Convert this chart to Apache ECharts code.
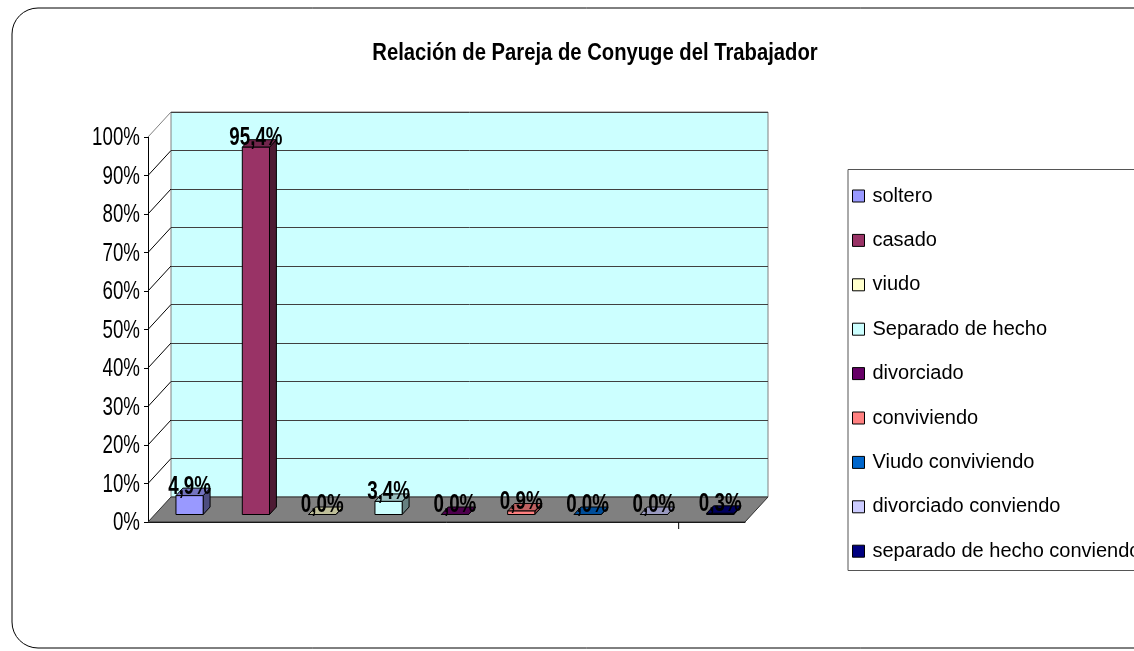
<!DOCTYPE html>
<html><head><meta charset="utf-8">
<script src="https://cdn.jsdelivr.net/npm/echarts@6/dist/echarts.min.js"></script>
<style>html,body{margin:0;padding:0;background:#fff}#c{width:1134px;height:651px}</style>
</head><body><div id="c"></div>
<script>
const title = 'Relación de Pareja de Conyuge del Trabajador';
const categories = ['soltero','casado','viudo','Separado de hecho','divorciado','conviviendo','Viudo conviviendo','divorciado conviendo','separado de hecho conviendo'];
const values = [4.9, 95.4, 0.0, 3.4, 0.0, 0.9, 0.0, 0.0, 0.3];
const colors = ['#9999FF','#993366','#FFFFCC','#CCFFFF','#660066','#FF8080','#0066CC','#CCCCFF','#000080'];
const yTickValues = [0,10,20,30,40,50,60,70,80,90,100];
const yTickLabels = ['0%','10%','20%','30%','40%','50%','60%','70%','80%','90%','100%'];

const FONT = "'Liberation Sans',Arial,sans-serif";
const DX = 23, DY = -25;          // depth of the 3D box
const G = {left:148, top:137, width:597, height:385};

function shade(hex, f){
  const n = parseInt(hex.slice(1),16);
  const r = Math.round(((n>>16)&255)*f), g = Math.round(((n>>8)&255)*f), b = Math.round((n&255)*f);
  return 'rgb('+r+','+g+','+b+')';
}
function fmt(v){ return v.toFixed(1).replace('.', ',') + '%'; }

function barRender(k){
  return function(params, api){
    const v = api.value(1);
    const base = api.coord([api.value(0), 0]);
    const top = api.coord([api.value(0), v]);
    const band = api.size([1,0])[0];
    const w = band*0.41;
    const fx = DX*0.3, fy = DY*0.3, dx = DX*0.3, dy = DY*0.3;
    const cx = base[0] + fx + 1.5;
    const x0 = cx - w/2, x1 = cx + w/2;
    const yb = base[1] + fy, yt = top[1] + fy;
    const c = colors[k];
    const line = {stroke:'#000', lineWidth:1};
    return {type:'group', children:[
      {type:'polygon', shape:{points:[[x1,yt],[x1+dx,yt+dy],[x1+dx,yb+dy],[x1,yb]]}, style:Object.assign({fill:shade(c,0.5)}, line)},
      {type:'polygon', shape:{points:[[x0,yt],[x1,yt],[x1+dx,yt+dy],[x0+dx,yt+dy]]}, style:Object.assign({fill:shade(c,0.75)}, line)},
      {type:'rect', shape:{x:x0, y:yt, width:w, height:Math.max(yb-yt,0)}, style:Object.assign({fill:c}, line)},
      {type:'text', x:cx, y:yt-9, scaleX:0.75, z2:10, style:{text:fmt(v), fill:'#000', fontFamily:FONT, fontWeight:'bold', fontSize:25, align:'center', verticalAlign:'middle'}}
    ]};
  };
}

const series = [];
// floor, left side diagonals, y tick labels, category tick
series.push({
  type:'custom', xAxisIndex:0, yAxisIndex:0, z:1, silent:true,
  data:[[0,0]],
  renderItem:function(params, api){
    const cs = params.coordSys;
    const yb = cs.y + cs.height;
    const band = api.size([1,0])[0];
    const ch = [
      {type:'polygon', shape:{points:[[cs.x,yb],[cs.x+cs.width,yb],[cs.x+cs.width+DX,yb+DY],[cs.x+DX,yb+DY]]}, style:{fill:'#808080', stroke:'#303030', lineWidth:1}}
    ];
    yTickValues.forEach(function(t, i){
      const p = api.coord([0, t]);
      if (t !== 0) {
        ch.push({type:'line', shape:{x1:cs.x, y1:p[1], x2:cs.x+DX, y2:p[1]+DY}, style:{stroke: t===100 ? '#808080' : '#000', lineWidth:1}});
      }
      ch.push({type:'text', x:cs.x-8, y:p[1]+1, scaleX:0.72, style:{text:yTickLabels[i], fill:'#000', fontFamily:FONT, fontSize:26, align:'right', verticalAlign:'middle'}});
    });
    const tx = api.coord([8, 0])[0] - band/2;
    ch.push({type:'line', shape:{x1:tx, y1:yb, x2:tx, y2:yb+7}, style:{stroke:'#000', lineWidth:1}});
    return {type:'group', children:ch};
  }
});
categories.forEach(function(name, k){
  series.push({
    type:'custom', name:name, xAxisIndex:0, yAxisIndex:0, z:3,
    itemStyle:{color:colors[k]},
    data:[[k, values[k]]],
    renderItem:barRender(k)
  });
});

const chart = echarts.init(document.getElementById('c'), null, {renderer:'canvas'});
chart.setOption({
  animation:false,
  backgroundColor:'#fff',
  grid:[
    {left:G.left, top:G.top, width:G.width, height:G.height, show:false, containLabel:false},
    {left:G.left+DX, top:G.top+DY, width:G.width, height:G.height, show:true, backgroundColor:'#CCFFFF', borderColor:'#808080', borderWidth:1, containLabel:false}
  ],
  xAxis:[
    {type:'category', gridIndex:0, data:categories, boundaryGap:true,
     axisLine:{show:true, lineStyle:{color:'#000', width:1}},
     axisTick:{show:false},
     axisLabel:{show:false}},
    {type:'category', gridIndex:1, data:categories, show:false}
  ],
  yAxis:[
    {type:'value', gridIndex:0, min:0, max:100, interval:10,
     axisLine:{show:true, lineStyle:{color:'#000', width:1}},
     axisTick:{show:true, length:4, lineStyle:{color:'#000'}},
     splitLine:{show:false},
     axisLabel:{show:false}},
    {type:'value', gridIndex:1, min:0, max:100, interval:10,
     axisLine:{show:false}, axisTick:{show:false}, axisLabel:{show:false},
     splitLine:{show:true, lineStyle:{color:'#404040', width:1}}}
  ],
  legend:{
    orient:'vertical', left:852, top:186, itemWidth:12, itemHeight:12, itemGap:24.4,
    icon:'rect', padding:0,
    itemStyle:{borderColor:'#000', borderWidth:1},
    textStyle:{fontFamily:FONT, fontSize:20, color:'#000', lineHeight:20, padding:[0,0,0,3]},
    data:categories
  },
  graphic:[
    {type:'rect', shape:{x:12, y:8, width:1150, height:640, r:26}, style:{fill:'none', stroke:'#000', lineWidth:1}, silent:true},
    {type:'rect', shape:{x:848, y:169.5, width:400, height:401}, style:{fill:'none', stroke:'#555', lineWidth:1}, silent:true},
    {type:'text', x:595, y:54, scaleX:0.88, style:{text:title, fill:'#000', fontFamily:FONT, fontWeight:'bold', fontSize:23, align:'center', verticalAlign:'middle'}, silent:true}
  ],
  series:series
});
</script></body></html>
